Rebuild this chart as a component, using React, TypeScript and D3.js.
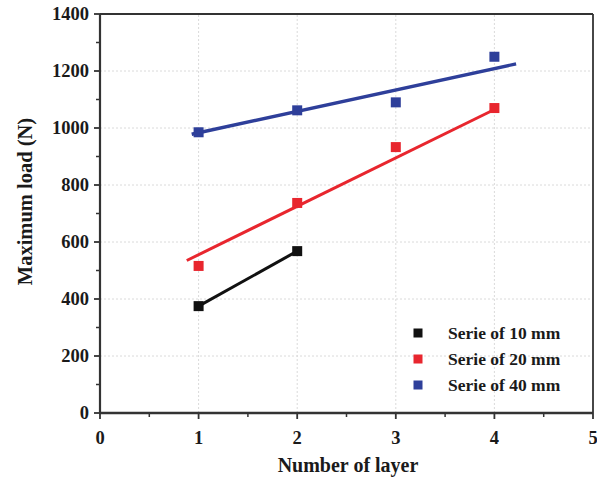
import React from "react";
import * as d3 from "d3";

// Measured maximum load for each specimen series
const layers10 = [1, 2];
const load10 = [375, 568];
const layers20 = [1, 2, 3, 4];
const load20 = [516, 737, 933, 1070];
const layers40 = [1, 2, 3, 4];
const load40 = [985, 1062, 1090, 1250];

// Linear trend lines (layer, load) end points
const fit20 = [[0.88, 535], [4.0, 1065]];
const fit40 = [[0.93, 978], [4.22, 1225]];

const xTicks = [0, 1, 2, 3, 4, 5];
const yTicks = [0, 200, 400, 600, 800, 1000, 1200, 1400];
const legendLabels = ["Serie of 10 mm", "Serie of 20 mm", "Serie of 40 mm"];
const seriesColors = ["#111111", "#e8262e", "#2e3f9a"];

const W = 597;
const H = 481;
const M = { left: 100, right: 4, top: 14, bottom: 68 };

export default function App() {
  const x = d3.scaleLinear().domain([0, 5]).range([M.left, W - M.right]);
  const y = d3.scaleLinear().domain([0, 1400]).range([H - M.bottom, M.top]);
  const line = d3
    .line<number[]>()
    .x((d) => x(d[0]))
    .y((d) => y(d[1]));

  const xMinor = d3.range(0.5, 5, 1);
  const yMinor = d3.range(100, 1400, 200);
  const font = "'Liberation Serif', 'Times New Roman', serif";
  const axisColor = "#333";
  const textColor = "#1a1a1a";

  const series = [
    { xs: layers10, ys: load10 },
    { xs: layers20, ys: load20 },
    { xs: layers40, ys: load40 },
  ];

  return (
    <svg
      width={W}
      height={H}
      style={{ position: "absolute", left: 0, top: 0, background: "#fff" }}
      fontFamily={font}
    >
      {/* grid */}
      {yTicks.slice(1, -1).map((t) => (
        <line
          key={"gy" + t}
          x1={x(0)}
          x2={x(5)}
          y1={y(t)}
          y2={y(t)}
          stroke="#dadada"
          strokeWidth={1}
          strokeDasharray="2,2"
        />
      ))}
      {xTicks.slice(1, -1).map((t) => (
        <line
          key={"gx" + t}
          x1={x(t)}
          x2={x(t)}
          y1={y(0)}
          y2={y(1400)}
          stroke="#dadada"
          strokeWidth={1}
          strokeDasharray="2,2"
        />
      ))}

      {/* frame */}
      <line x1={x(0)} x2={x(5)} y1={y(1400)} y2={y(1400)} stroke={axisColor} strokeWidth={1.8} />
      <line x1={x(5)} x2={x(5)} y1={y(0)} y2={y(1400)} stroke={axisColor} strokeWidth={1.8} />
      <line x1={x(0)} x2={x(0)} y1={y(0)} y2={y(1400)} stroke={axisColor} strokeWidth={2.2} />
      <line x1={x(0) - 1} x2={x(5)} y1={y(0)} y2={y(0)} stroke={axisColor} strokeWidth={2.6} />

      {/* y ticks */}
      {yTicks.map((t) => (
        <g key={"yt" + t}>
          <line x1={x(0) - 6} x2={x(0)} y1={y(t)} y2={y(t)} stroke={axisColor} strokeWidth={1.8} />
          <text
            x={x(0) - 11}
            y={y(t)}
            dy="0.35em"
            textAnchor="end"
            fontSize={18.5}
            fontWeight="bold"
            fill={textColor}
          >
            {t}
          </text>
        </g>
      ))}
      {yMinor.map((t) => (
        <line key={"ym" + t} x1={x(0) - 4} x2={x(0)} y1={y(t)} y2={y(t)} stroke={axisColor} strokeWidth={1.5} />
      ))}

      {/* x ticks */}
      {xTicks.map((t) => (
        <g key={"xt" + t}>
          <line x1={x(t)} x2={x(t)} y1={y(0)} y2={y(0) + 6} stroke={axisColor} strokeWidth={1.8} />
          <text
            x={x(t)}
            y={y(0) + 31}
            textAnchor="middle"
            fontSize={18.5}
            fontWeight="bold"
            fill={textColor}
          >
            {t}
          </text>
        </g>
      ))}
      {xMinor.map((t) => (
        <line key={"xm" + t} x1={x(t)} x2={x(t)} y1={y(0)} y2={y(0) + 4} stroke={axisColor} strokeWidth={1.5} />
      ))}

      {/* axis titles */}
      <text
        x={348}
        y={472}
        textAnchor="middle"
        fontSize={20}
        fontWeight="bold"
        fill={textColor}
      >
        Number of layer
      </text>
      <text
        transform={`translate(32, ${(y(0) + y(1400)) / 2 - 12}) rotate(-90)`}
        textAnchor="middle"
        fontSize={20.5}
        fontWeight="bold"
        fill={textColor}
      >
        Maximum load (N)
      </text>

      {/* connecting line for the 10 mm series */}
      <path
        d={line(layers10.map((v, i) => [v, load10[i]])) || ""}
        fill="none"
        stroke={seriesColors[0]}
        strokeWidth={3}
      />
      {/* trend lines */}
      <path d={line(fit20) || ""} fill="none" stroke={seriesColors[1]} strokeWidth={3} />
      <path d={line(fit40) || ""} fill="none" stroke={seriesColors[2]} strokeWidth={3.4} />

      {/* markers */}
      {series.map((s, si) =>
        s.xs.map((v, i) => (
          <rect
            key={`m${si}-${i}`}
            x={x(v) - 5}
            y={y(s.ys[i]) - 5}
            width={10}
            height={10}
            fill={seriesColors[si]}
          />
        ))
      )}

      {/* legend */}
      {legendLabels.map((lab, i) => (
        <g key={lab} transform={`translate(418, ${333 + i * 26})`}>
          <rect x={-4.5} y={-4.5} width={9} height={9} fill={seriesColors[i]} />
          <text x={30} y={0} dy="0.35em" fontSize={17.5} fontWeight="bold" fill={textColor}>
            {lab}
          </text>
        </g>
      ))}
    </svg>
  );
}
